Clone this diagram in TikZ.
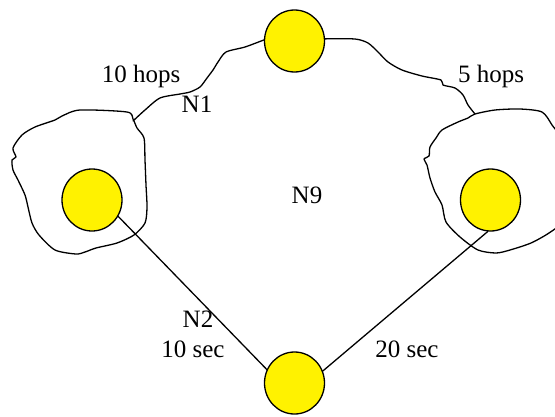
\documentclass[tikz,border=0pt]{standalone}
\usepackage{fontspec}
\setmainfont{Liberation Serif}
\usetikzlibrary{shapes.geometric}
\begin{document}
\begin{tikzpicture}[x=1pt,y=-1pt,
  peer/.style={draw, line width=1.3pt, fill=yellow, ellipse, minimum width=60pt, minimum height=62pt, inner sep=0pt},
  wire/.style={line width=1.3pt, line join=round, line cap=round},
  lbl/.style={font=\fontsize{25}{30}\selectfont, anchor=base, inner sep=0pt}]
\useasboundingbox (0,0) rectangle (555,416);
\node[peer] (T) at (294.5,41) {};
\node[peer] (L) at (92,200) {};
\node[peer] (R) at (490.5,200) {};
\node[peer] (B) at (294.5,383) {};
% blobs
\draw[wire] plot[smooth cycle, tension=0.45] coordinates {
  (127,112) (133,119) (137,128) (144,138) (145,160) (146,185) (147,207) (145,223)
  (134,235) (117,243) (96,248) (85,252) (76,254) (55,250) (39,235) (32,223)
  (28,207) (25,195) (18,180) (13,170) (12,160) (16,157) (13,148) (22,135)
  (35,127) (55,120) (62,116) (80,110)};
\draw[wire] plot[smooth cycle, tension=0.45] coordinates {
  (475,114) (495,110) (520,109) (542,112) (552,125) (560,140) (566,200) (562,222)
  (549,233) (531,243) (510,250) (496,253) (478,250) (460,237) (446,222) (442,205)
  (435,192) (430,178) (427,165) (424,159) (429,156) (430,147) (436,138) (442,130)
  (458,122) (468,118)};
% hop connectors
\coordinate (J1) at (133,121);
\coordinate (J2) at (475,114);
\draw[wire] plot[smooth, tension=0.45] coordinates {
  (J1) (145,110) (160,98) (180,94) (190,92) (200,87) (207,78) (213,70) (218,62)
  (226,52) (245,47) (T.178)};
\draw[wire] plot[smooth, tension=0.45] coordinates {
  (T.4) (355,39) (368,43) (378,52) (388,62) (402,70) (422,76) (441,80) (443,85)
  (455,88) (463,95) (468,105) (J2)};
% time connectors
\draw[wire] (L.-32) -- (B.154);
\draw[wire] (R.-95) -- (B.23);
% labels
\node[lbl] (h10) at (141,82) {10 hops};
\node[lbl] (n1) at (197,112) {N1};
\node[lbl] (h5) at (491,82) {5 hops};
\node[lbl] (n9) at (307,203) {N9};
\node[lbl] (n2) at (198,327) {N2};
\node[lbl] (s10) at (193,357) {10 sec};
\node[lbl] (s20) at (407,357) {20 sec};
\end{tikzpicture}
\end{document}
